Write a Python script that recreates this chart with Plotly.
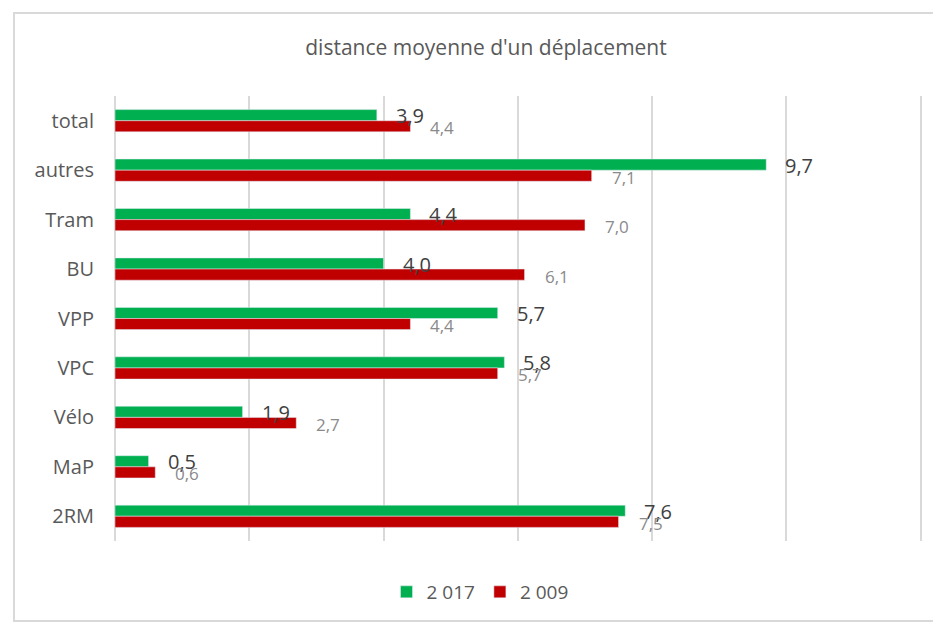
import plotly.graph_objects as go

categories = ["total", "autres", "Tram", "BU", "VPP", "VPC", "Vélo", "MaP", "2RM"]
values_2017 = [3.9, 9.7, 4.4, 4.0, 5.7, 5.8, 1.9, 0.5, 7.6]
values_2009 = [4.4, 7.1, 7.0, 6.1, 4.4, 5.7, 2.7, 0.6, 7.5]
series_names = ["2 017", "2 009"]
title_text = "distance moyenne d'un déplacement"

GREEN = "#00B050"
RED = "#C00000"
FONT = "Open Sans, Liberation Sans, sans-serif"

W, H = 941, 625
OFF = 8  # page body margin offset
# target plot box in page pixels
PL, PR, PT, PB = 115, 922, 96, 541
ML = PL - OFF
MT = PT - OFF
MR = W - (PR - OFF)
MB = H - (PB - OFF)
pw = PR - PL
ph = PB - PT

def px_x(x):
    return (x - PL) / pw

def px_y(y):
    return (PB - y) / ph

def fmt(v):
    return f"{v:.1f}".replace(".", ",")

fig = go.Figure()
fig.add_trace(go.Bar(y=categories, x=values_2017, name=series_names[0], orientation="h",
                     marker=dict(color=GREEN), hoverinfo="skip"))
fig.add_trace(go.Bar(y=categories, x=values_2009, name=series_names[1], orientation="h",
                     marker=dict(color=RED), hoverinfo="skip"))

annotations = []
for c, v in zip(categories, values_2017):
    annotations.append(dict(x=v, y=c, xref="x", yref="y", text=fmt(v), showarrow=False,
                            xanchor="left", yanchor="middle", xshift=17, yshift=5,
                            font=dict(family=FONT, size=20, color="#404040")))
for c, v in zip(categories, values_2009):
    annotations.append(dict(x=v, y=c, xref="x", yref="y", text=fmt(v), showarrow=False,
                            xanchor="left", yanchor="middle", xshift=18, yshift=-7,
                            font=dict(family=FONT, size=17, color="#8a8a8a")))

fig.update_layout(
    width=W, height=H,
    margin=dict(l=ML, r=MR, t=MT, b=MB, autoexpand=False),
    paper_bgcolor="white", plot_bgcolor="white",
    barmode="group", bargap=0.55, bargroupgap=0,
    font=dict(family=FONT, color="#595959"),
    title=dict(text=title_text, x=(486 - OFF) / W, xanchor="center",
               y=1 - (48 - OFF) / H, yanchor="middle",
               font=dict(family=FONT, size=21, color="#595959")),
    xaxis=dict(range=[0, 12.02], dtick=2, showticklabels=False, showgrid=True,
               gridcolor="#d9d9d9", gridwidth=1.5, zeroline=True, zerolinecolor="#d9d9d9",
               zerolinewidth=1.5, showline=False, fixedrange=True),
    yaxis=dict(autorange="reversed", showgrid=False, showline=False, ticks="",
               ticklabelstandoff=20, automargin=False,
               tickfont=dict(family=FONT, size=20, color="#595959")),
    legend=dict(orientation="h", x=px_x(480), xanchor="center",
                y=px_y(592), yanchor="middle",
                font=dict(family=FONT, size=19, color="#595959"),
                traceorder="normal"),
    annotations=annotations,
    showlegend=True,
)

# outer chart frame
fig.add_shape(type="rect", xref="paper", yref="paper",
              x0=px_x(14), x1=px_x(939), y0=px_y(621), y1=px_y(13),
              line=dict(color="#d9d9d9", width=2), fillcolor="rgba(0,0,0,0)", layer="below")

fig.write_html("out.html")
